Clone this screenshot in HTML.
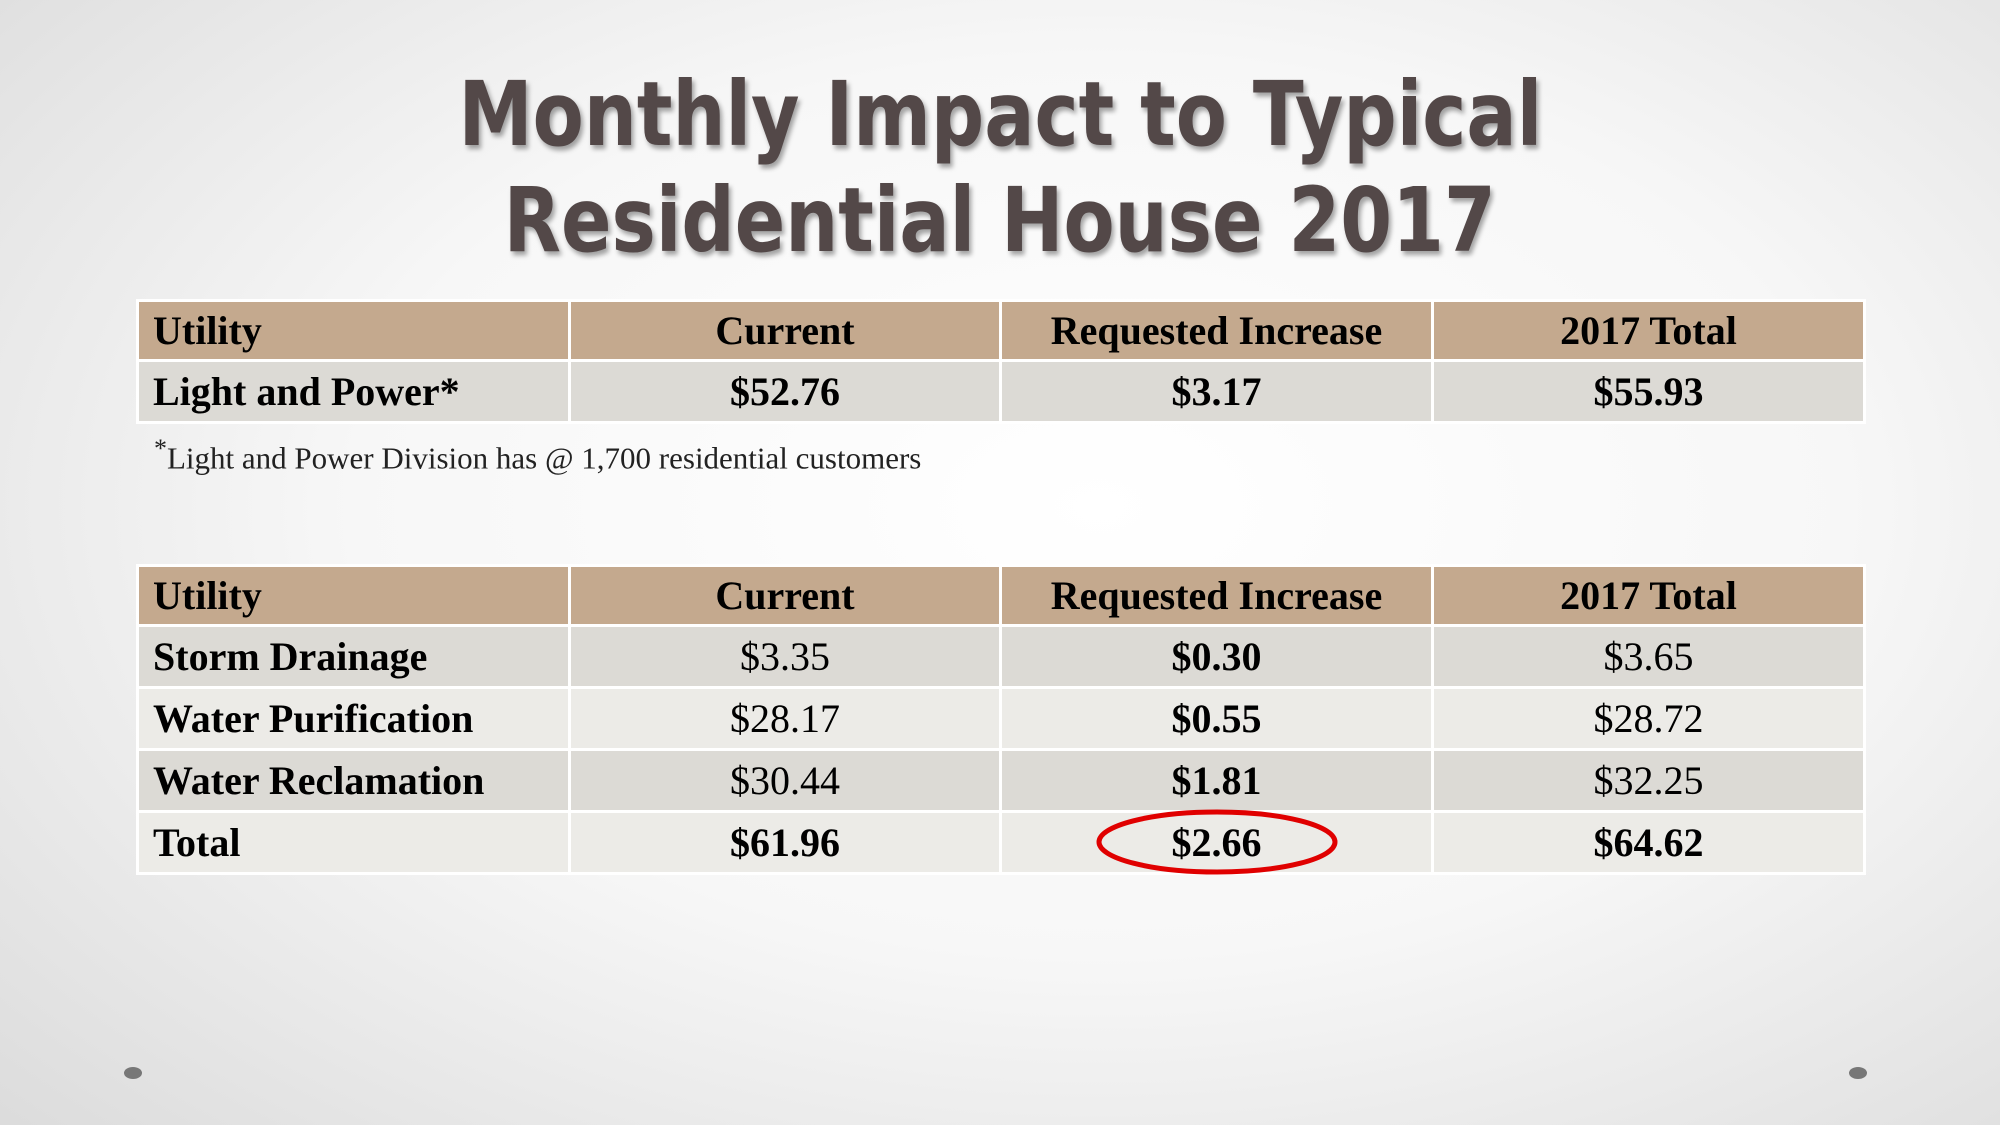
<!DOCTYPE html>
<html><head><meta charset="utf-8"><style>
html,body{margin:0;padding:0}
body{width:2000px;height:1125px;position:relative;overflow:hidden;background:radial-gradient(ellipse 75% 80% at 55% 45%,#ffffff 0%,#f7f7f7 50%,#dcdcdc 100%);font-family:"Liberation Serif",serif}
.t{position:absolute;left:0;width:2000px;text-align:center;font-family:"DejaVu Sans",sans-serif;font-weight:bold;font-size:89px;color:#534848;text-shadow:3px 4px 5px rgba(0,0,0,0.35);line-height:1}
.t span{display:inline-block;transform:scaleX(0.837)}
table{position:absolute;left:136px;width:1727px;border-collapse:collapse;table-layout:fixed}
td{border:3px solid #fff;font-size:40px;padding:0 14px;color:#000;white-space:nowrap}
td:not(:first-child){text-align:center}
.h td{background:#c4a98e;font-weight:bold}
.a td{background:#dcdad5}
.b td{background:#ecebe7}
td:first-child{font-weight:bold}
.bd{font-weight:bold}
.dot{position:absolute;width:18px;height:12px;border-radius:50%;background:#777}
</style></head><body>
<div class="t" style="top:70px"><span>Monthly Impact to Typical</span></div>
<div class="t" style="top:176px"><span>Residential House 2017</span></div>
<table style="top:299px">
<colgroup><col style="width:432px"><col style="width:431px"><col style="width:432px"><col style="width:432px"></colgroup>
<tr class="h" style="height:60px"><td>Utility</td><td>Current</td><td>Requested Increase</td><td>2017 Total</td></tr>
<tr class="a" style="height:62px"><td>Light and Power*</td><td class="bd">$52.76</td><td class="bd">$3.17</td><td class="bd">$55.93</td></tr>
</table>
<div style="position:absolute;left:154px;top:434px;font-size:31px;color:#222"><sup style="font-size:26px">*</sup>Light and Power Division has @ 1,700 residential customers</div>
<table style="top:564px">
<colgroup><col style="width:432px"><col style="width:431px"><col style="width:432px"><col style="width:432px"></colgroup>
<tr class="h" style="height:60px"><td>Utility</td><td>Current</td><td>Requested Increase</td><td>2017 Total</td></tr>
<tr class="a" style="height:62px"><td>Storm Drainage</td><td>$3.35</td><td class="bd">$0.30</td><td>$3.65</td></tr>
<tr class="b" style="height:62px"><td>Water Purification</td><td>$28.17</td><td class="bd">$0.55</td><td>$28.72</td></tr>
<tr class="a" style="height:62px"><td>Water Reclamation</td><td>$30.44</td><td class="bd">$1.81</td><td>$32.25</td></tr>
<tr class="b" style="height:62px"><td>Total</td><td class="bd">$61.96</td><td class="bd">$2.66</td><td class="bd">$64.62</td></tr>
</table>
<svg style="position:absolute;left:0;top:0" width="2000" height="1125"><ellipse cx="1217" cy="842" rx="118" ry="30" fill="none" stroke="#e00000" stroke-width="5"/></svg>
<div class="dot" style="left:124px;top:1067px"></div>
<div class="dot" style="left:1849px;top:1067px"></div>
</body></html>
